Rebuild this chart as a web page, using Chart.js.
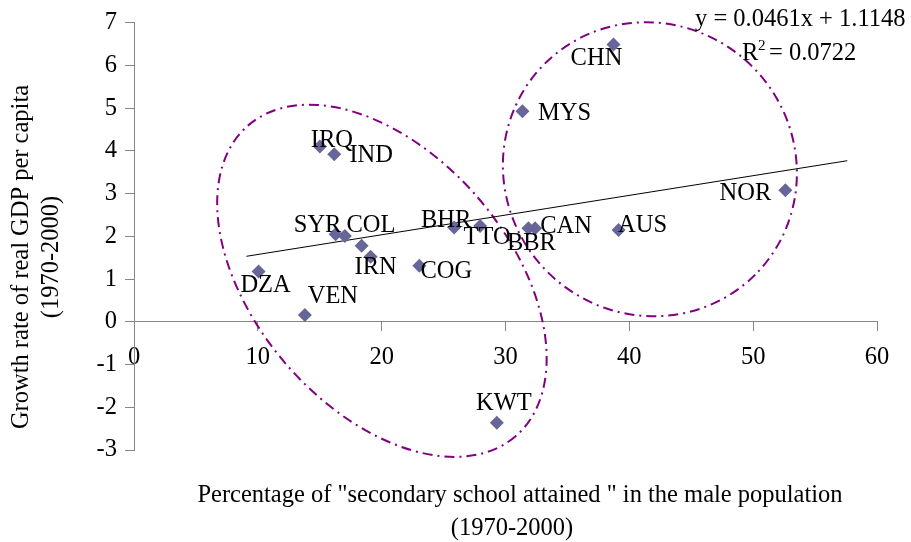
<!DOCTYPE html>
<html>
<head>
<meta charset="utf-8">
<script src="https://cdn.jsdelivr.net/npm/chart.js@4.4.1/dist/chart.umd.min.js"></script>
<style>
  html, body { margin: 0; padding: 0; background: #ffffff; }
  canvas { display: block; }
</style>
</head>
<body>
<canvas id="chart" width="911" height="542"></canvas>
<script>
// Country codes and their values (secondary schooling share vs. GDP growth, 1970-2000)
const countries = ['DZA', 'VEN', 'SYR', 'COL', '', 'IRN', 'IRQ', 'IND', 'COG',
                   'BHR', 'TTO', 'BBR', 'CAN', 'AUS', 'NOR', 'MYS', 'CHN', 'KWT'];
const schoolShare = [10.06, 13.8, 16.28, 17.03, 18.38, 19.11, 15.01, 16.17, 23.04,
                     25.85, 27.95, 31.85, 32.39, 39.13, 52.6, 31.37, 38.72, 29.3];
const gdpGrowth = [1.18, 0.16, 2.05, 2.01, 1.78, 1.52, 4.10, 3.92, 1.31,
                   2.21, 2.24, 2.19, 2.19, 2.15, 3.08, 4.93, 6.49, -2.36];

// Linear trend fitted to the points
const trendSlope = 0.0461;
const trendIntercept = 1.1148;
const trendRSquared = 0.0722;
const trendRange = [9.08, 57.6];

// Axis ranges and tick steps
const xTicks = [0, 10, 20, 30, 40, 50, 60];
const yTicks = [-3, -2, -1, 0, 1, 2, 3, 4, 5, 6, 7];

// Label placement (pixel offset of each label's centre from its marker)
const labelOffsets = [
  [7, 13], [28, -20], [-18, -10], [26, -12], [0, 0], [5, 9], [12, -8], [37, 0], [27, 4],
  [-8, -8], [7, 10], [3, 14], [31, -3], [24, -6], [-40, 2], [42, 1], [-17, 13], [7, -21]
];

// Dash-dot rings grouping the countries (centre in data units, radii in px)
const groupRings = [
  { cx: 20.02, cy: 0.96, rx: 205, ry: 127, angle: 49.3 },
  { cx: 41.66, cy: 3.57, rx: 149, ry: 145, angle: 45 }
];

const SERIF = "'Liberation Serif', 'Times New Roman', serif";
const FONT_SIZE = 24.5;
const AXIS_GREY = '#868686';

const points = schoolShare.map((x, i) => ({ x: x, y: gdpGrowth[i] }));
const trendPoints = trendRange.map(x => ({ x: x, y: trendSlope * x + trendIntercept }));

const annotations = {
  id: 'annotations',
  beforeDatasetsDraw(chart) {
    const ctx = chart.ctx;
    const xs = chart.scales.x, ys = chart.scales.y;
    ctx.save();
    ctx.strokeStyle = '#800080';
    ctx.lineWidth = 2;
    ctx.setLineDash([10, 5, 2, 5]);
    groupRings.forEach(r => {
      ctx.beginPath();
      ctx.ellipse(xs.getPixelForValue(r.cx), ys.getPixelForValue(r.cy),
                  r.rx, r.ry, r.angle * Math.PI / 180, 0, Math.PI * 2);
      ctx.stroke();
    });
    ctx.restore();
  },
  afterDatasetsDraw(chart) {
    const ctx = chart.ctx;
    const meta = chart.getDatasetMeta(0);
    const mainFont = FONT_SIZE + 'px ' + SERIF;
    ctx.save();
    ctx.fillStyle = '#000000';
    ctx.font = mainFont;
    ctx.textAlign = 'center';
    ctx.textBaseline = 'alphabetic';
    // country labels
    meta.data.forEach((el, i) => {
      if (!countries[i]) return;
      const [dx, dy] = labelOffsets[i];
      ctx.fillText(countries[i], el.x + dx, el.y + dy + 8);
    });

    // trend equation
    ctx.textAlign = 'left';
    ctx.fillText('y = ' + trendSlope.toFixed(4) + 'x + ' + trendIntercept.toFixed(4), 695, 26);
    ctx.fillText('R', 742, 60);
    ctx.font = '15px ' + SERIF;
    ctx.fillText('2', 758, 50);
    ctx.font = mainFont;
    ctx.fillText('= ' + trendRSquared.toFixed(4), 769, 60);

    // axis titles
    ctx.textAlign = 'center';
    ctx.fillText('Percentage of "secondary school attained " in the male population', 520, 502);
    ctx.fillText('(1970-2000)', 512, 535);
    ctx.translate(0, 257);
    ctx.rotate(-Math.PI / 2);
    ctx.textBaseline = 'middle';
    ctx.fillText('Growth rate of real GDP per capita', 0, 22);
    ctx.fillText('(1970-2000)', 0, 52);
    ctx.restore();
  }
};

new Chart(document.getElementById('chart'), {
  type: 'scatter',
  data: {
    datasets: [
      {
        data: points,
        pointStyle: 'rectRot',
        pointRadius: 7,
        pointHoverRadius: 7,
        backgroundColor: '#666699',
        borderColor: '#666699',
        borderWidth: 0,
        order: 0
      },
      {
        type: 'line',
        data: trendPoints,
        borderColor: '#000000',
        borderWidth: 1,
        pointRadius: 0,
        fill: false,
        order: 1
      }
    ]
  },
  options: {
    responsive: false,
    animation: false,
    devicePixelRatio: 1,
    layout: { padding: { left: 0, right: 34, top: 21, bottom: 92 } },
    plugins: { legend: { display: false }, tooltip: { enabled: false } },
    scales: {
      x: {
        type: 'linear',
        position: { y: 0 },
        min: xTicks[0],
        max: xTicks[xTicks.length - 1],
        afterBuildTicks: s => { s.ticks = xTicks.map(v => ({ value: v })); },
        afterFit: s => { s.height = 0; },
        ticks: { color: '#000000', padding: 12, font: { family: SERIF, size: FONT_SIZE }, maxRotation: 0 },
        grid: { drawOnChartArea: false, drawTicks: true, tickLength: 9, color: AXIS_GREY },
        border: { display: true, color: AXIS_GREY }
      },
      y: {
        type: 'linear',
        position: 'left',
        min: yTicks[0],
        max: yTicks[yTicks.length - 1],
        afterBuildTicks: s => { s.ticks = yTicks.map(v => ({ value: v })); },
        afterFit: s => { s.width = 134; },
        ticks: { color: '#000000', padding: 8, font: { family: SERIF, size: FONT_SIZE } },
        grid: { drawOnChartArea: false, drawTicks: true, tickLength: 9, color: AXIS_GREY },
        border: { display: true, color: AXIS_GREY }
      }
    }
  },
  plugins: [annotations]
});
</script>
</body>
</html>
